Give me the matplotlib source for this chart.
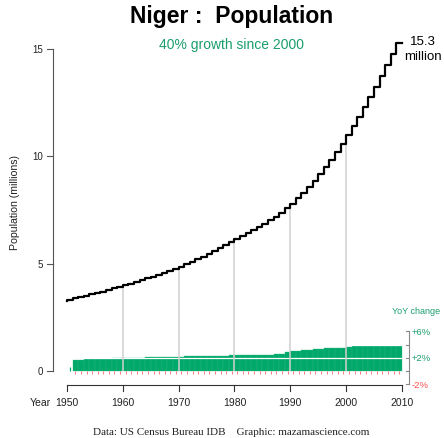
import matplotlib

matplotlib.use("Agg")

import matplotlib.pyplot as plt
import numpy as np

# Niger population, millions (US Census Bureau IDB)
years = np.arange(1950, 2011)
population = [
    3.27, 3.33, 3.38, 3.44, 3.50, 3.57, 3.63, 3.70, 3.77, 3.85,
    3.92, 3.99, 4.07, 4.15, 4.23, 4.31, 4.40, 4.48, 4.57, 4.67,
    4.76, 4.86, 4.97, 5.09, 5.21, 5.33, 5.45, 5.58, 5.72, 5.86,
    6.00, 6.14, 6.27, 6.41, 6.56, 6.71, 6.86, 7.01, 7.18, 7.36,
    7.57, 7.80, 8.04, 8.30, 8.57, 8.86, 9.17, 9.49, 9.83, 10.20,
    10.59, 10.98, 11.40, 11.83, 12.28, 12.75, 13.23, 13.74, 14.25, 14.76,
    15.30,
]

# year-over-year change, percent
yoy_years = np.arange(1951, 2010)
yoy_change = [
    1.70, 1.73, 1.76, 1.79, 1.82, 1.85, 1.88, 1.91, 1.94, 1.97,
    2.00, 2.03, 2.04, 2.06, 2.08, 2.10, 2.12, 2.14, 2.16, 2.18,
    2.20, 2.22, 2.24, 2.26, 2.28, 2.30, 2.34, 2.34, 2.36, 2.38,
    2.40, 2.42, 2.44, 2.46, 2.48, 2.50, 2.52, 2.55, 2.85, 3.05,
    3.10, 3.15, 3.20, 3.28, 3.36, 3.48, 3.42, 3.45, 3.55, 3.65,
    3.72, 3.78, 3.80, 3.80, 3.80, 3.80, 3.79, 3.77, 3.74,
]

decades = [1960, 1970, 1980, 1990, 2000]
year_ticks = [1950, 1960, 1970, 1980, 1990, 2000, 2010]
pop_ticks = [0, 5, 10, 15]
yoy_ticks = [-2, 0, 2, 4, 6]
yoy_tick_labels = ["-2%", "", "+2%", "", "+6%"]

GREEN = "#00a86b"
GREEN_TEXT = "#1a9e6c"
RED = "#ff4f4f"
FONT = "Liberation Sans"

# pixel layout of the reference
W, H = 444, 439
X1950, PX_YEAR = 67.0, 5.583
Y0, PX_MILLION, PX_PCT = 372.0, 21.47, 6.6
BOX = (40, 30, 420, 400)  # left, top, right, bottom


def px_year(px):
    return 1950 + (px - X1950) / PX_YEAR


def px_million(py):
    return (Y0 - py) / PX_MILLION


fig = plt.figure(figsize=(W / 100, H / 100), dpi=100)
fig.patch.set_facecolor("white")
ax = fig.add_axes([BOX[0] / W, 1 - BOX[3] / H, (BOX[2] - BOX[0]) / W, (BOX[3] - BOX[1]) / H])
ax2 = ax.twinx()
ax.set_xlim(px_year(BOX[0]), px_year(BOX[2]))
ax.set_ylim(px_million(BOX[3]), px_million(BOX[1]))
ax2.set_ylim(px_million(BOX[3]) * PX_MILLION / PX_PCT, px_million(BOX[1]) * PX_MILLION / PX_PCT)
ax.set_zorder(ax2.get_zorder() + 1)
ax.patch.set_visible(False)

# YoY bars
ax2.bar(yoy_years, yoy_change, width=1.0, align="edge", color=GREEN,
        edgecolor="#2fb882", linewidth=0.25, zorder=2)
ax2.vlines([1950.5], 0, 0.55, color=GREEN, lw=0.9, zorder=3)
ax2.vlines(yoy_years + 0.5, -0.5, 0, color=RED, lw=0.7, alpha=0.75, zorder=3)
ax2.hlines([2, 4], yoy_years[0], yoy_years[-1] + 1, color="white", lw=0.9, zorder=3)

# decade guides up to the population line
pop_at = dict(zip(years, population))
ax.vlines(decades, 0, [pop_at[d] for d in decades], color="#d0d0d0", lw=1.1, zorder=1)

# population step line
ax.plot(years, population, drawstyle="steps-pre", color="black", lw=1.6, zorder=4)
ax.annotate(f"{population[-1]:.1f}\nmillion", xy=(years[-1], population[-1]),
            xytext=(15, -4.5), textcoords="offset points", ha="center", va="center",
            fontsize=9.5, family=FONT, linespacing=1.3)

# axes lines, ticks and labels drawn by hand in data coordinates
for a in (ax, ax2):
    for spine in a.spines.values():
        spine.set_visible(False)
    a.set_xticks([])
    a.set_yticks([])

x_left = px_year(53)
tick_x = 6 / PX_YEAR
ax.plot([x_left, x_left], [pop_ticks[0], pop_ticks[-1]], color="#555555", lw=0.8, clip_on=False)
for t in pop_ticks:
    ax.plot([x_left - tick_x, x_left], [t, t], color="#555555", lw=0.8, clip_on=False)
    ax.text(x_left - tick_x - 4 / PX_YEAR, t, str(t), ha="right", va="center",
            fontsize=7, family=FONT, color="#222222")
fig.text(15 / W, 1 - 203 / H, "Population (millions)", rotation=90, ha="center", va="center",
         fontsize=7.6, family=FONT, color="#222222")

y_axis = px_million(386)
tick_y = 6 / PX_MILLION
ax.plot([year_ticks[0], year_ticks[-1]], [y_axis, y_axis], color="#333333", lw=0.8, clip_on=False)
for t in year_ticks:
    ax.plot([t, t], [y_axis, y_axis - tick_y], color="#333333", lw=0.8, clip_on=False)
    ax.text(t, px_million(403), str(t), ha="center", va="center",
            fontsize=7.5, family=FONT, color="#222222", clip_on=False)
ax.text(px_year(51), px_million(403), "Year", ha="right", va="center",
        fontsize=7.5, family=FONT, color="#222222", clip_on=False)

x_right = px_year(409)
tick_r = 3 / PX_YEAR
ax2.plot([x_right, x_right], [yoy_ticks[0], yoy_ticks[-1]], color="#888888", lw=0.8, clip_on=False)
for t, lab in zip(yoy_ticks, yoy_tick_labels):
    ax2.plot([x_right - tick_r, x_right], [t, t], color="#888888", lw=0.8, clip_on=False)
    ax2.text(x_right + 2.5 / PX_YEAR, t, lab, ha="left", va="center", fontsize=6.8, family=FONT,
             color=RED if t < 0 else GREEN_TEXT, clip_on=False)
ax2.text(px_year(392), yoy_ticks[-1] + 21 / PX_PCT, "YoY change", ha="left", va="center",
         fontsize=6.5, family=FONT, color=GREEN_TEXT, clip_on=False)

# titles and credits
cx = 231.5 / W
fig.text(cx, 1 - 23.5 / H, "Niger :  Population", ha="center", va="baseline",
         fontsize=16.5, fontweight="bold", family=FONT)
fig.text(cx, 1 - 48.5 / H, "40% growth since 2000", ha="center", va="baseline",
         fontsize=10, family=FONT, color=GREEN_TEXT)
fig.text(cx, 1 - 435 / H, "Data: US Census Bureau IDB    Graphic: mazamascience.com",
         ha="center", va="baseline", fontsize=8, family="Liberation Serif", color="#222222")

fig.savefig("out.png", dpi=100)
